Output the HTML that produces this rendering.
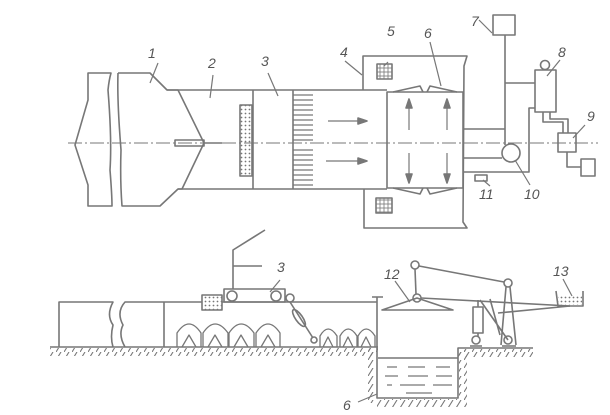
<!DOCTYPE html>
<html><head><meta charset="utf-8"><style>
html,body{margin:0;padding:0;background:#fff;width:610px;height:415px;overflow:hidden}
svg{display:block}
text{font-family:"Liberation Sans",sans-serif;font-style:italic;font-size:14px;fill:#555}
</style></head><body>
<svg width="610" height="415" viewBox="0 0 610 415" xmlns="http://www.w3.org/2000/svg">
<defs>
<pattern id="dots" width="4" height="4" patternUnits="userSpaceOnUse"><circle cx="1.5" cy="1.5" r="0.9" fill="#777"/></pattern>
<pattern id="hatch" width="8" height="8" patternUnits="userSpaceOnUse"><path d="M0 8 L5 0" stroke="#777" stroke-width="1.1"/></pattern>
<pattern id="grid" width="4" height="4" patternUnits="userSpaceOnUse"><rect width="4" height="4" fill="none" stroke="#777" stroke-width="0.8"/></pattern>
</defs>
<g fill="none" stroke="#777" stroke-width="1.6" stroke-linejoin="round">
<!-- centerline -->
<line x1="68" y1="143" x2="598" y2="143" stroke-dasharray="14 3 2 3" stroke-width="1"/>
<!-- left piece -->
<path d="M88 73 L111 73 Q109 80 108 90 Q112 140 110 170 Q112 195 112 206 L88 206 L88 185 L75 145 L88 100 Z"/>
<!-- section 1 -->
<path d="M118 73 L150 73 L167 90 L178 90 L204 143 L182 189 L178 189 L160 206 L122 206 Q120 180 121 150 Q117 100 118 73"/>
<!-- body top/bottom -->
<path d="M167 90 L387 90"/>
<path d="M178 189 L387 189"/>
<!-- rod -->
<rect x="175" y="140" width="29" height="6"/>
<line x1="204" y1="143" x2="222" y2="143"/>
<!-- dotted rect -->
<rect x="240" y="105" width="12" height="71" fill="url(#dots)"/>
<line x1="253" y1="90" x2="253" y2="189"/>
<line x1="293" y1="90" x2="293" y2="189"/>
<!-- comb -->
<g stroke-width="1.2">
<line x1="293" y1="95" x2="313" y2="95"/><line x1="293" y1="100" x2="313" y2="100"/><line x1="293" y1="105" x2="313" y2="105"/><line x1="293" y1="110" x2="313" y2="110"/><line x1="293" y1="115" x2="313" y2="115"/><line x1="293" y1="120" x2="313" y2="120"/><line x1="293" y1="125" x2="313" y2="125"/><line x1="293" y1="130" x2="313" y2="130"/><line x1="293" y1="135" x2="313" y2="135"/><line x1="293" y1="140" x2="313" y2="140"/><line x1="293" y1="150" x2="313" y2="150"/><line x1="293" y1="155" x2="313" y2="155"/><line x1="293" y1="160" x2="313" y2="160"/><line x1="293" y1="165" x2="313" y2="165"/><line x1="293" y1="170" x2="313" y2="170"/><line x1="293" y1="175" x2="313" y2="175"/><line x1="293" y1="180" x2="313" y2="180"/><line x1="293" y1="185" x2="313" y2="185"/>
</g>
<!-- arrows -->
<line x1="328" y1="121" x2="360" y2="121" stroke-width="1.2"/><path d="M358 118 L367 121 L358 124 Z" fill="#777"/>
<line x1="326" y1="161" x2="360" y2="161" stroke-width="1.2"/><path d="M358 158 L367 161 L358 164 Z" fill="#777"/>
<!-- box 4/5 outline -->
<path d="M363 90 L363 56 L467 56 L464 66 L463 222 L467 228 L364 228 L364 189"/>
<rect x="377" y="64" width="15" height="15" fill="url(#grid)"/>
<rect x="376" y="198" width="16" height="15" fill="url(#grid)"/>
<!-- box 6 -->
<rect x="387" y="92" width="76" height="96"/>
<path d="M393 92 L420 86 L423 92 M427 92 L430 86 L457 92"/>
<path d="M393 188 L420 194 L423 188 M427 188 L430 194 L457 188"/>
<g stroke-width="1.2">
<line x1="409" y1="130" x2="409" y2="105"/><line x1="447" y1="130" x2="447" y2="105"/>
<line x1="409" y1="153" x2="409" y2="177"/><line x1="447" y1="153" x2="447" y2="177"/>
</g>
<path d="M406 108 L409 99 L412 108 Z M444 108 L447 99 L450 108 Z M406 174 L409 183 L412 174 Z M444 174 L447 183 L450 174 Z" fill="#777"/>
<!-- right system -->
<rect x="493" y="15" width="22" height="20"/>
<line x1="505" y1="35" x2="505" y2="145"/>
<line x1="463" y1="129" x2="505" y2="129"/>
<line x1="463" y1="158" x2="502" y2="158"/>
<path d="M463 172 L529 172 L529 108 L535 108"/>
<circle cx="511" cy="153" r="9"/>
<line x1="505" y1="83" x2="535" y2="83"/>
<rect x="535" y="70" width="21" height="42"/>
<circle cx="545" cy="65" r="4.5"/>
<path d="M543 112 L543 122 L563 122 L563 133 M550 112 L550 119 L568 119 L568 133"/>
<rect x="558" y="133" width="18" height="19"/>
<path d="M567 152 L567 167 L581 167"/>
<rect x="581" y="159" width="14" height="17"/>
<rect x="475" y="175" width="12" height="6"/>
<!-- leaders top -->
<g stroke-width="1.2">
<line x1="150" y1="83" x2="158" y2="63"/><line x1="210" y1="98" x2="213" y2="75"/><line x1="278" y1="96" x2="268" y2="73"/>
<line x1="362" y1="75" x2="345" y2="61"/><line x1="384" y1="66" x2="388" y2="62"/><line x1="441" y1="86" x2="430" y2="42"/>
<line x1="492" y1="33" x2="479" y2="20"/><line x1="547" y1="76" x2="560" y2="60"/><line x1="573" y1="138" x2="585" y2="125"/>
<line x1="515" y1="160" x2="530" y2="185"/><line x1="483" y1="180" x2="490" y2="186"/>
</g>
<!-- ===== bottom view ===== -->
<path d="M59 347 L59 302 L113 302 Q106 315 113 325 Q110 337 113 347"/>
<path d="M125 347 Q118 335 123 325 Q116 312 125 302 L202 302"/>
<line x1="164" y1="302" x2="164" y2="347"/>
<rect x="202" y="295" width="20" height="15" fill="url(#dots)"/>
<line x1="222" y1="302" x2="377" y2="302"/>
<rect x="224" y="289" width="61" height="13"/>
<circle cx="232" cy="296" r="5"/><circle cx="276" cy="296" r="5"/>
<path d="M233 289 L233 250 L265 230 M233 266 L262 266"/>
<circle cx="290" cy="298" r="4"/>
<path d="M290 302 L313 338"/><ellipse cx="299" cy="318" rx="3.5" ry="10" transform="rotate(-35 299 318)"/>
<circle cx="314" cy="340" r="3"/>
<!-- arches -->
<g stroke-width="1.3">
<path d="M177 347 L177 333 Q189 315 201 333 L201 347"/><path d="M182 347 L189 335 L196 347"/>
<path d="M203 347 L203 333 Q215 315 228 333 L228 347"/><path d="M208 347 L215 335 L222 347"/>
<path d="M229 347 L229 333 Q241 315 254 333 L254 347"/><path d="M234 347 L241 335 L248 347"/>
<path d="M256 347 L256 333 Q268 315 280 333 L280 347"/><path d="M261 347 L268 335 L275 347"/>
<path d="M320 347 L320 336 Q328 322 337 336 L337 347"/><path d="M323 347 L328 337 L333 347"/>
<path d="M340 347 L340 336 Q348 322 357 336 L357 347"/><path d="M343 347 L348 337 L353 347"/>
<path d="M358 347 L358 336 Q366 322 375 336 L375 347"/><path d="M361 347 L366 337 L371 347"/>
</g>
<!-- ground -->
<line x1="50" y1="347" x2="378" y2="347"/>
<rect x="50" y="348" width="328" height="8" fill="url(#hatch)" stroke="none"/>
<path d="M372 297 L383 297 M377 297 L377 398 L458 398 L458 348 L533 348"/>
<rect x="368" y="348" width="8" height="55" fill="url(#hatch)" stroke="none"/>
<rect x="459" y="350" width="8" height="50" fill="url(#hatch)" stroke="none"/>
<rect x="377" y="399" width="90" height="8" fill="url(#hatch)" stroke="none"/>
<rect x="458" y="349" width="75" height="8" fill="url(#hatch)" stroke="none"/>
<line x1="378" y1="358" x2="458" y2="358"/>
<g stroke-width="1.2">
<path d="M387 367 L397 367 M408 367 L425 367 M436 367 L450 367"/>
<path d="M385 376 L398 376 M408 376 L428 376 M436 376 L452 376"/>
<path d="M387 385 L392 385 M400 385 L425 385 M433 385 L452 385"/>
<path d="M406 393 L432 393"/>
<line x1="358" y1="402" x2="377" y2="394"/>
</g>
<!-- lid & lever -->
<path d="M382 310 L453 310 L417 298 Z"/>
<circle cx="417" cy="298" r="4"/>
<line x1="416" y1="294" x2="415" y2="269"/>
<circle cx="415" cy="265" r="4"/>
<line x1="419" y1="266" x2="504" y2="282"/>
<circle cx="508" cy="283" r="4"/>
<line x1="421" y1="298" x2="570" y2="306"/>
<line x1="498" y1="313" x2="570" y2="306"/>
<path d="M556 291 L558 306 L583 306 L583 291"/>
<rect x="558" y="295" width="24" height="10" fill="url(#dots)" stroke="none"/>
<path d="M506 287 L501 345 M510 287 L516 345"/>
<path d="M480 300 L508 340 M490 299 L500 335"/>
<rect x="473" y="307" width="10" height="26"/>
<line x1="478" y1="300" x2="478" y2="307"/><line x1="478" y1="333" x2="478" y2="337"/>
<circle cx="476" cy="340" r="4"/><circle cx="508" cy="340" r="4"/>
<path d="M470 346 L482 346 M502 346 L516 346"/>
<g stroke-width="1.2">
<line x1="395" y1="281" x2="410" y2="302"/><line x1="563" y1="279" x2="572" y2="296"/><line x1="280" y1="280" x2="270" y2="292"/>
</g>
</g>
<text x="148" y="58">1</text><text x="208" y="68">2</text><text x="261" y="66">3</text>
<text x="340" y="57">4</text><text x="387" y="36">5</text><text x="424" y="38">6</text>
<text x="471" y="26">7</text><text x="558" y="57">8</text><text x="587" y="121">9</text>
<text x="524" y="199">10</text><text x="479" y="199">11</text>
<text x="277" y="272">3</text><text x="384" y="279">12</text><text x="553" y="276">13</text>
<text x="343" y="410">6</text>
</svg>
</body></html>
